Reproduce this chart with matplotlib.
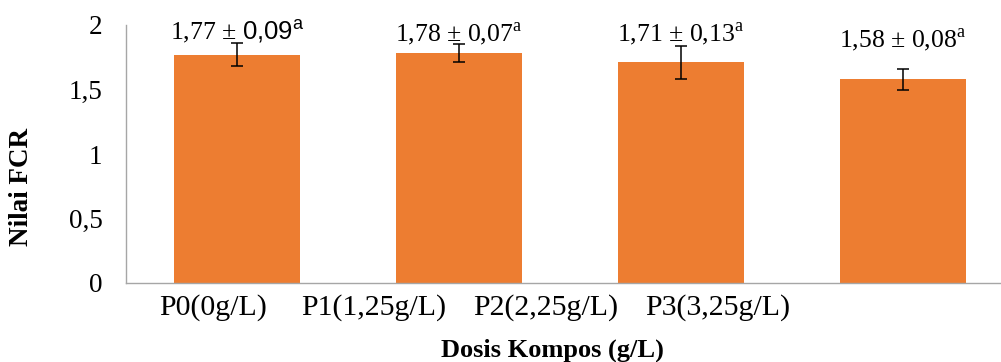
import matplotlib
matplotlib.use("Agg")
import matplotlib.pyplot as plt
import numpy as np

plt.rcParams['font.family'] = ['Liberation Serif', 'DejaVu Serif']
plt.rcParams['mathtext.fontset'] = 'custom'
plt.rcParams['mathtext.rm'] = 'Liberation Serif'
plt.rcParams['mathtext.sf'] = 'Liberation Sans'

# data
categories = ["P0(0g/L)", "P1(1,25g/L)", "P2(2,25g/L)", "P3(3,25g/L)"]
fcr_mean = [1.77, 1.78, 1.71, 1.58]
fcr_sd = [0.09, 0.07, 0.13, 0.08]
value_labels = [
    r"1,77 ± $\mathsf{0{,}09^{a}}$",
    r"1,78 ± 0,07$^{\mathrm{a}}$",
    r"1,71 ± 0,13$^{\mathrm{a}}$",
    r"1,58 ± 0,08$^{\mathrm{a}}$",
]
yticks = [0, 0.5, 1, 1.5, 2]
ytick_labels = ["0", "0,5", "1", "1,5", "2"]

bar_color = "#ED7D31"
axis_color = "#A6A6A6"

fig = plt.figure(figsize=(10.01, 3.62), dpi=100)
ax = fig.add_axes([126 / 1001, 79 / 362, 888 / 1001, 258 / 362])

x = np.arange(len(fcr_mean))
ax.bar(x, fcr_mean, width=0.57, color=bar_color, zorder=2)
ax.errorbar(x, fcr_mean, yerr=fcr_sd, fmt="none", ecolor="black",
            elinewidth=1.1, capsize=4.5, capthick=1.1, zorder=3)

# labels above the error bars (last one sits higher, as in the original)
label_offsets = [2, 2, 3, 15]
for xi, m, s, lab, off in zip(x, fcr_mean, fcr_sd, value_labels, label_offsets):
    ax.annotate(lab, xy=(xi, m + s), xytext=(0, off), textcoords="offset points",
                ha="center", va="baseline", fontsize=18.5)

ax.set_xlim(-0.5, 3.5)
ax.set_ylim(0, 2)
ax.set_yticks(yticks)
ax.set_yticklabels(ytick_labels, fontsize=19.5)
ax.tick_params(axis="y", length=0, pad=17)

# category labels don't line up with the bars in the original
tick_pos = [-0.108, 0.617, 1.392, 2.167]
ax.set_xticks(tick_pos)
ax.set_xticklabels(categories, fontsize=21.5)
ax.tick_params(axis="x", length=0, pad=8)

for side in ["top", "right"]:
    ax.spines[side].set_visible(False)
for side in ["left", "bottom"]:
    ax.spines[side].set_color(axis_color)
    ax.spines[side].set_linewidth(1.0)

fig.text(22 / 1001, 1 - 187 / 362, "Nilai FCR", rotation=90, ha="center", va="center",
         fontsize=19.5, fontweight="bold")
fig.text(552 / 1001, 1 - 339 / 362, "Dosis Kompos (g/L)", ha="center", va="top",
         fontsize=19, fontweight="bold")

fig.savefig("out.png", dpi=100)
